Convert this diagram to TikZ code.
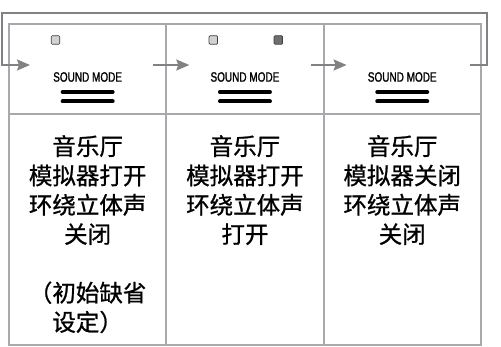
\documentclass[tikz,border=0pt]{standalone}
\usepackage{fontspec}
\setmainfont[FakeBold=0.9]{Noto Sans CJK SC}
\newfontfamily\modefont[FakeStretch=0.74, FakeBold=1.2]{Liberation Sans}
\usetikzlibrary{arrows.meta, calc, positioning}

\definecolor{tablegray}{HTML}{A7A9AC}
\definecolor{loopgray}{HTML}{808285}
\definecolor{ledlight}{HTML}{D1D2D4}
\definecolor{leddark}{HTML}{6D6E71}

\begin{document}
\begin{tikzpicture}[x=1pt, y=-1pt, node distance=0pt,
    >={Stealth[length=13pt, width=11pt, inset=2pt]}]
    \tikzstyle{topcell} = [draw=tablegray, line width=2pt, minimum width=157.3pt,
	minimum height=90pt, inner sep=0pt, outer sep=0pt]
    \tikzstyle{botcell} = [topcell, minimum height=231pt]
    \tikzstyle{led} = [draw=black!75, line width=0.7pt, rounded corners=1pt,
	minimum size=8.5pt, inner sep=0pt, fill=ledlight]
    \tikzstyle{modelabel} = [font=\modefont\fontsize{13.5}{13.5}\selectfont, inner sep=0pt]
    \tikzstyle{bar} = [line width=4pt, line cap=round]
    \tikzstyle{flow} = [->, draw=loopgray, line width=2pt]
    \tikzstyle{info} = [align=center, anchor=north, inner sep=0pt,
	font=\fontsize{23.5}{29.3}\selectfont]

	\useasboundingbox (0,0) rectangle (501,347);

	% table
	\node[topcell] (t1) at (87.65,69) {};
	\node[topcell, right=of t1] (t2) {};
	\node[topcell, right=of t2] (t3) {};
	\node[botcell, below=of t1] (b1) {};
	\node[botcell, below=of t2] (b2) {};
	\node[botcell, below=of t3] (b3) {};

	% lamps
	\node[led] (l1) at ($(t1.north west)+(46.5,16)$) {};
	\node[led] (l2) at ($(t2.north west)+(47,16)$) {};
	\node[led, fill=leddark] (l3) at ($(t2.north west)+(112,16)$) {};

	% button
	\foreach \i in {1,2,3}{
		\node[modelabel] (m\i) at ($(t\i.north)+(0,53)$) {SOUND MODE};
		\draw[bar] ($(m\i.south)+(-25,10)$) -- ++(50,0);
		\draw[bar] ($(m\i.south)+(-25,19.5)$) -- ++(50,0);
	}

	% arrows
	\coordinate (in1) at ($(t1.west)+(21,-4)$);
	\coordinate (out1) at ($(t1.east)+(-13,-4)$);
	\coordinate (in2) at ($(t2.west)+(23,-4)$);
	\coordinate (out2) at ($(t2.east)+(-13,-4)$);
	\coordinate (in3) at ($(t3.west)+(23,-4)$);
	\coordinate (out3) at ($(t3.east)+(-11,-4)$);

	\draw[flow] (out1) -- (in2);
	\draw[flow] (out2) -- (in3);
	\draw[flow, line join=miter] (out3) -- ++(17,0) |- ($(t1.north west)+(-7,-11)$) |- (in1);

	% texts
	\node[info] (i1) at ($(b1.north)+(0,21)$)
		{音乐厅\\模拟器打开\\环绕立体声\\关闭\\[29.3pt]（初始缺省\\设定）};
	\node[info] (i2) at ($(b2.north)+(0,21)$)
		{音乐厅\\模拟器打开\\环绕立体声\\打开};
	\node[info] (i3) at ($(b3.north)+(0,21)$)
		{音乐厅\\模拟器关闭\\环绕立体声\\关闭};
\end{tikzpicture}
\end{document}
